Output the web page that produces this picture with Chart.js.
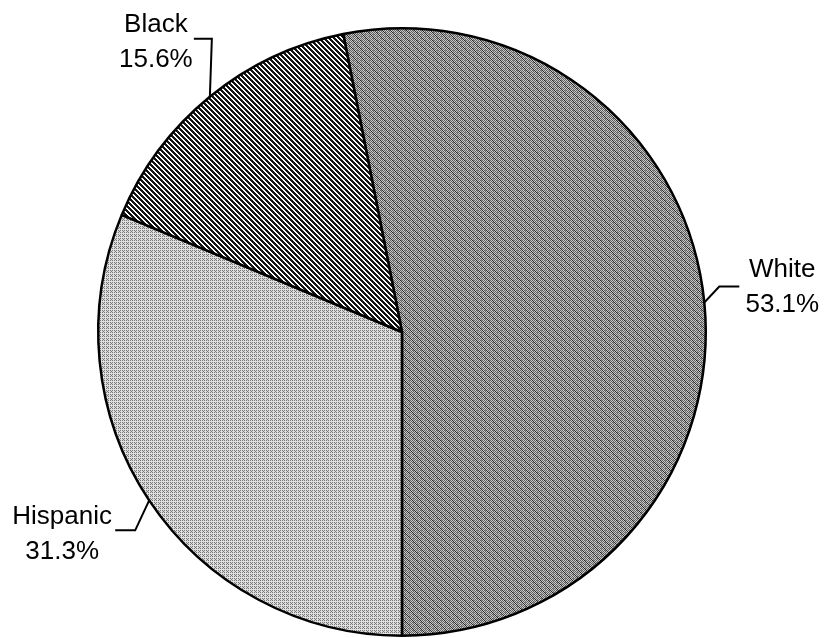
<!DOCTYPE html>
<html>
<head>
<meta charset="utf-8">
<script src="https://cdn.jsdelivr.net/npm/chart.js@4.4.1/dist/chart.umd.min.js"></script>
<style>
body { margin: 0; background: #fff; }
canvas { display: block; }
</style>
</head>
<body>
<canvas id="chart" width="830" height="638"></canvas>
<script>
// slices, clockwise from just left of 12 o'clock
const groups = ["White", "Hispanic", "Black"];
const shares = [53.1, 31.3, 15.6];
const shareLabels = ["53.1%", "31.3%", "15.6%"];

const canvas = document.getElementById('chart');
const ctx2d = canvas.getContext('2d');

function makePattern(size, shade) {
    const c = document.createElement('canvas');
    c.width = size;
    c.height = size;
    const g = c.getContext('2d');
    const img = g.createImageData(size, size);
    for (let y = 0; y < size; y++) {
        for (let x = 0; x < size; x++) {
            const v = shade(x, y);
            const i = (y * size + x) * 4;
            img.data[i] = v;
            img.data[i + 1] = v;
            img.data[i + 2] = v;
            img.data[i + 3] = 255;
        }
    }
    g.putImageData(img, 0, 0);
    return ctx2d.createPattern(c, 'repeat');
}

// dithered grey screens like the scanned original
const whiteFill = makePattern(8, (x, y) => {
    if ((x + y) % 2 === 0) return ((x * 3 + y * 5) % 8 === 0) ? 40 : 95;
    return ((x + 2 * y) % 8 === 1) ? 140 : 200;
});
const hispanicFill = makePattern(8, (x, y) => {
    if (x % 4 === 1 || y % 4 === 1) return 225;
    return (x + y) % 2 === 0 ? 120 : 215;
});
const blackFill = makePattern(5, (x, y) => {
    const d = ((x - y) % 5 + 5) % 5;
    return (d <= 2) ? 20 : 255;
});

// label layout: elbow offset from slice edge, horizontal run, text offset
const labelLayout = [
    { bend: [15, -16], run: 20, text: [43, -9] },
    { bend: [-14, 30], run: -20, text: [-53, -6] },
    { bend: [2, -58], run: -18, text: [-38, -7] }
];

const leaderLabels = {
    id: 'leaderLabels',
    afterDatasetsDraw(chart) {
        const ctx = chart.ctx;
        const arcs = chart.getDatasetMeta(0).data;
        ctx.save();
        ctx.strokeStyle = '#000';
        ctx.lineWidth = 2;
        ctx.fillStyle = '#000';
        ctx.font = '26px "Liberation Sans", Arial, sans-serif';
        ctx.textAlign = 'center';
        arcs.forEach((arc, i) => {
            const p = arc.getProps(['x', 'y', 'startAngle', 'endAngle', 'outerRadius'], true);
            const mid = (p.startAngle + p.endAngle) / 2;
            const ex = p.x + Math.cos(mid) * p.outerRadius;
            const ey = p.y + Math.sin(mid) * p.outerRadius;
            const lay = labelLayout[i];
            const bx = ex + lay.bend[0];
            const by = ey + lay.bend[1];
            const tx = bx + lay.run;
            ctx.beginPath();
            ctx.moveTo(ex, ey);
            ctx.lineTo(bx, by);
            ctx.lineTo(tx, by);
            ctx.stroke();
            const cx = tx + lay.text[0];
            const base = by + lay.text[1];
            ctx.fillText(groups[i], cx, base);
            ctx.fillText(shareLabels[i], cx, base + 35);
        });
        ctx.restore();
    }
};

const chart = new Chart(canvas, {
    type: 'pie',
    data: {
        labels: groups,
        datasets: [{
            data: shares,
            backgroundColor: [whiteFill, hispanicFill, blackFill],
            borderColor: '#000',
            borderWidth: 2.5
        }]
    },
    options: {
        responsive: false,
        animation: false,
        rotation: -(shares[0] - 50) * 3.6,
        layout: {
            padding: { left: 97, right: 123, top: 27, bottom: 1 }
        },
        plugins: {
            legend: { display: false },
            tooltip: { enabled: false }
        }
    },
    plugins: [leaderLabels]
});
</script>
</body>
</html>
